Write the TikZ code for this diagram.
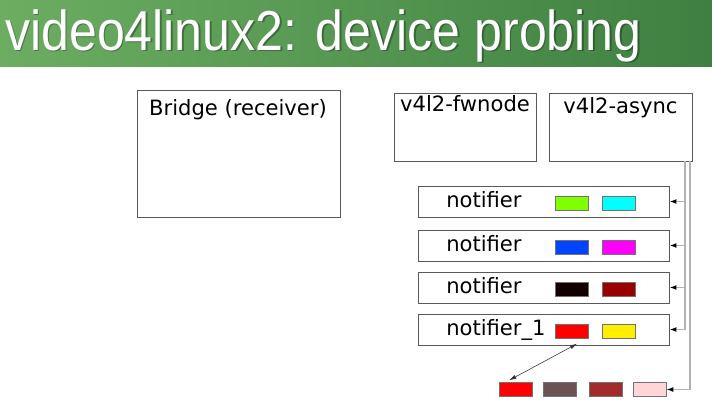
\documentclass[tikz,border=0pt]{standalone}
\usepackage{fontspec}
\setmainfont{DejaVu Sans}
\newfontfamily\titlefont{Liberation Sans}
\usetikzlibrary{arrows.meta,fit,calc}

\definecolor{hdrL}{HTML}{6CAD62}
\definecolor{hdrR}{HTML}{3F7F41}
\definecolor{cGreen}{HTML}{80FF00}
\definecolor{cCyan}{HTML}{00FFFF}
\definecolor{cBlue}{HTML}{0044FF}
\definecolor{cMagenta}{HTML}{FF00FF}
\definecolor{cBlack}{HTML}{120000}
\definecolor{cDarkred}{HTML}{990000}
\definecolor{cRed}{HTML}{FF0000}
\definecolor{cYellow}{HTML}{FFEE00}
\definecolor{cBrown}{HTML}{6C5353}
\definecolor{cMaroon}{HTML}{A02C2C}
\definecolor{cPink}{HTML}{FFD5D5}

\tikzset{
  box/.style={draw=black!65, line width=0.6pt, inner sep=0pt},
  txt/.style={font=\fontsize{15}{18}\selectfont, inner sep=0pt},
  chip/.style={draw=black!55, line width=0.4pt, minimum width=0.825cm, minimum height=0.35cm, inner sep=0pt},
  bus/.style={draw=black!30, line width=1.1pt, -{Latex[length=5pt,width=3.5pt,color=black]}},
  title/.style={font=\titlefont\fontsize{40}{44}\selectfont, anchor=base west, xscale=0.89, inner sep=0pt}
}

\begin{document}
\begin{tikzpicture}[x=0.025cm,y=-0.025cm]
  \useasboundingbox (0,0) rectangle (712,410);

  % Header band
  \shade[left color=hdrL, right color=hdrR] (0,0) rectangle (712,66);
  \node[title, text=black, opacity=0.3] (titleshadow) at (6.5,51.5) {video4linux2: device probing};
  \node[title, text=white] (titletext) at (5,50) {video4linux2: device probing};

  % Top boxes
  \node[box, fit={(137,90) (340,217)}] (bridge) {};
  \node[txt, anchor=base] (bridgelbl) at (238,115) {Bridge (receiver)};
  \node[box, fit={(394,93) (536,161)}] (fwnode) {};
  \node[txt, anchor=base] (fwnodelbl) at (465,111) {v4l2-fwnode};
  \node[box, fit={(549,93) (692,161)}] (async) {};
  \node[txt, anchor=base] (asynclbl) at (620.5,113) {v4l2-async};

  % Notifiers
  \foreach \i/\y/\lab/\ca/\cb in {1/186/notifier/cGreen/cCyan, 2/230/notifier/cBlue/cMagenta,
                                  3/272/notifier/cBlack/cDarkred, 4/314/notifier\_1/cRed/cYellow} {
    \node[box, fit={(418,\y) (669,\y+31)}] (n\i) {};
    \node[txt, anchor=base west] (n\i lbl) at (446,\y+21) {\lab};
    \node[chip, fill=\ca] (n\i a) at (572,\y+17.5) {};
    \node[chip, fill=\cb] (n\i b) at (619,\y+17.5) {};
  }

  % Bottom row
  \node[chip, fill=cRed] (b1) at (516,389.5) {};
  \node[chip, fill=cBrown] (b2) at (559.5,389.5) {};
  \node[chip, fill=cMaroon] (b3) at (606,389.5) {};
  \node[chip, fill=cPink] (b4) at (649.5,389.5) {};

  % Links from v4l2-async
  \coordinate (tapA) at (685,161);
  \coordinate (tapB) at (690,161);
  \foreach \i in {1,...,4}
    \draw[bus] (tapA) |- (n\i.east);
  \draw[bus] (tapB) |- (b4.east);

  \draw[{Latex[length=5pt,width=3pt]}-{Latex[length=5pt,width=3pt]}, line width=0.4pt, black!80]
    ($(n4a.south)+(5,5)$) -- ($(b1.north west)+(10,-2)$);
\end{tikzpicture}
\end{document}
